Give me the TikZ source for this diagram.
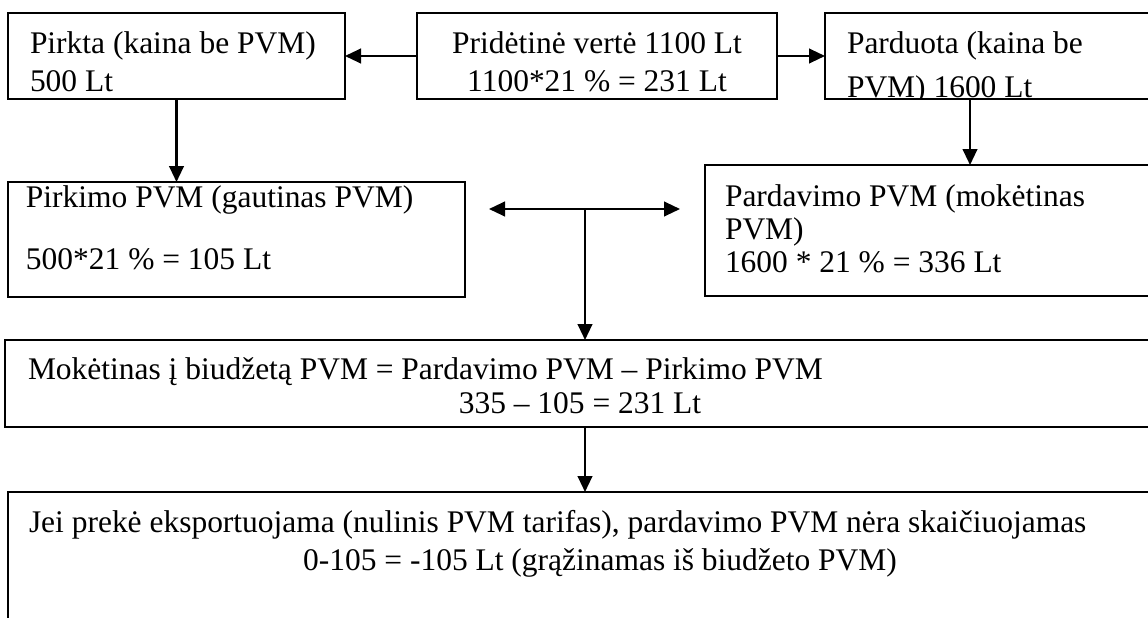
\documentclass[tikz,border=0pt]{standalone}
\usepackage{fontspec}
\setmainfont{Liberation Serif}
\usetikzlibrary{arrows.meta,calc}
\begin{document}
\begin{tikzpicture}[x=0.75pt,y=-0.75pt,
  box/.style={draw, line width=1.5pt, inner sep=0pt, outer sep=0pt, anchor=north west},
  txt/.style={inner sep=0pt, outer sep=0pt, font=\fontsize{23.6pt}{28pt}\selectfont},
  lt/.style={txt, anchor=base west},
  ct/.style={txt, anchor=base},
  tip/.tip={Triangle[length=12pt,width=11pt]},
  arr/.style={line width=1.6pt, -tip},
  arrs/.style={line width=1.6pt, tip-tip}]
\useasboundingbox (0,0) rectangle (1148,617);
\clip (0,0) rectangle (1148,617);

% boxes
\node[box, minimum width=252.75pt, minimum height=64.5pt] (b1) at (8,13) {};
\node[box, minimum width=270pt, minimum height=64.5pt] (b2) at (417,13) {};
\node[box, minimum width=258.75pt, minimum height=64.5pt] (b3) at (825,13) {};
\node[box, minimum width=342.75pt, minimum height=86.25pt] (b4) at (8,182) {};
\node[box, minimum width=348.75pt, minimum height=98.25pt] (b5) at (705,165) {};
\node[box, minimum width=873.75pt, minimum height=65.25pt] (b6) at (5,340) {};
\node[box, minimum width=871.5pt, minimum height=112.5pt] (b7) at (8,492) {};

% texts
\node[lt] (t1a) at (30,54) {Pirkta (kaina be PVM)};
\node[lt] (t1b) at (30,91) {500 Lt};
\node[ct] (t2a) at (597,54) {Pridėtinė vertė 1100 Lt};
\node[ct] (t2b) at (597,91) {1100*21 \% = 231 Lt};
\begin{scope}
  \clip (b3.north west) rectangle (b3.south east);
  \node[lt] (t3a) at (847,54) {Parduota (kaina be};
  \node[lt] (t3b) at (847,98) {PVM) 1600 Lt};
\end{scope}
\node[lt] (t4a) at (26,207) {Pirkimo PVM (gautinas PVM)};
\node[lt] (t4b) at (26,269) {500*21 \% = 105 Lt};
\node[lt] (t5a) at (725,206) {Pardavimo PVM (mokėtinas};
\node[lt] (t5b) at (725,239) {PVM)};
\node[lt] (t5c) at (725,272) {1600 * 21 \% = 336 Lt};
\node[lt] (t6a) at (28,379) {Mokėtinas į biudžetą PVM = Pardavimo PVM – Pirkimo PVM};
\node[ct] (t6b) at (580,413) {335 – 105 = 231 Lt};
\node[lt] (t7a) at (29,532) {Jei prekė eksportuojama (nulinis PVM tarifas), pardavimo PVM nėra skaičiuojamas};
\node[ct] (t7b) at (600,570) {0-105 = -105 Lt (grąžinamas iš biudžeto PVM)};

% connectors
\draw[arr] (b2.west) -- (b1.east);
\draw[arr] (b2.east) -- (b3.west);
\draw[arr] (b1.south) -- (b1.south |- b4.north);
\coordinate (c3) at ($(b3.south west)+(145,0)$);
\draw[arr] (c3) -- (c3 |- b5.north);
\coordinate (dl) at (489,209);
\coordinate (dr) at (680,209);
\coordinate (dm) at (585,209);
\draw[arrs] (dl) -- (dr);
\draw[arr] (dm) -- (dm |- b6.north);
\draw[arr] (dm |- b6.south) -- (dm |- b7.north);
\end{tikzpicture}
\end{document}
